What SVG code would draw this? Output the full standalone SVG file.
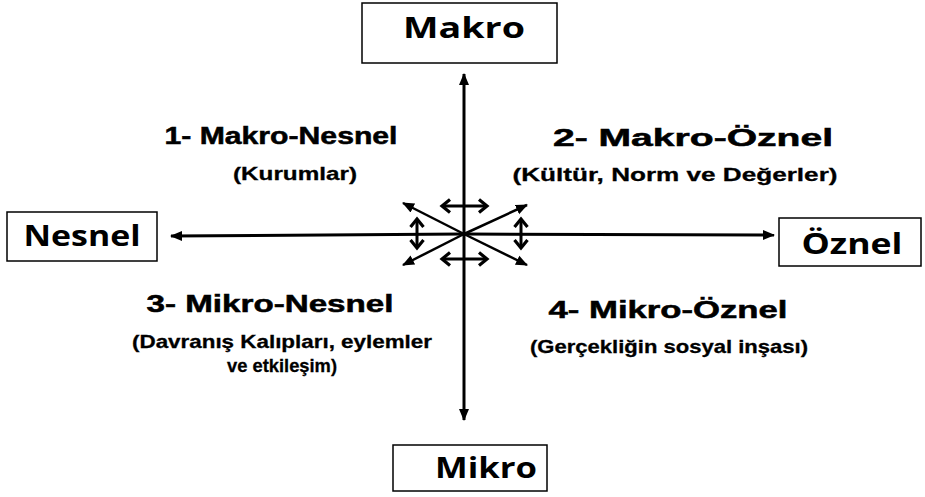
<svg xmlns="http://www.w3.org/2000/svg" width="925" height="497" viewBox="0 0 925 497">
<style>
.box{fill:#fff;stroke:#000;stroke-width:1.5}
.bt{font-family:"Open Sans","Liberation Sans",sans-serif;font-weight:bold;font-size:29px;fill:#000}
.qt{font-family:"Liberation Sans",Arial,sans-serif;font-weight:bold;font-size:23px;fill:#000;stroke:#000;stroke-width:0.5}
.qs{font-family:"Liberation Sans",Arial,sans-serif;font-weight:bold;font-size:19px;fill:#000;stroke:#000;stroke-width:0.3}
.ax{stroke:#000;stroke-width:3;fill:none}
.dg{stroke:#000;stroke-width:2.5;fill:none}
.sm{stroke:#000;stroke-width:3;fill:none}
</style>
<defs>
<marker id="ah" markerUnits="userSpaceOnUse" markerWidth="14" markerHeight="12" refX="11" refY="6" orient="auto">
<path d="M0,1 L12,6 L0,11 Z" fill="#000"/>
</marker>
<marker id="ch" markerUnits="userSpaceOnUse" markerWidth="14" markerHeight="16" refX="10" refY="8" orient="auto-start-reverse">
<path d="M2,1.5 L10,8 L2,14.5" fill="none" stroke="#000" stroke-width="3.2"/>
</marker>
</defs>
<g id="connectors">
<line class="ax" x1="464" y1="234" x2="464" y2="74" marker-end="url(#ah)"/>
<line class="ax" x1="464" y1="234" x2="464" y2="420" marker-end="url(#ah)"/>
<line class="ax" x1="464" y1="234" x2="171" y2="236" marker-end="url(#ah)"/>
<line class="ax" x1="464" y1="234" x2="774" y2="235" marker-end="url(#ah)"/>
<line class="dg" x1="464" y1="234" x2="403" y2="203" marker-end="url(#ah)"/>
<line class="dg" x1="464" y1="234" x2="527" y2="205" marker-end="url(#ah)"/>
<line class="dg" x1="464" y1="234" x2="403" y2="265" marker-end="url(#ah)"/>
<line class="dg" x1="464" y1="234" x2="527" y2="265" marker-end="url(#ah)"/>
<line class="sm" x1="442" y1="206" x2="487" y2="206" marker-start="url(#ch)" marker-end="url(#ch)"/>
<line class="sm" x1="442" y1="259" x2="487" y2="259" marker-start="url(#ch)" marker-end="url(#ch)"/>
<line class="sm" x1="417" y1="219" x2="417" y2="248" marker-start="url(#ch)" marker-end="url(#ch)"/>
<line class="sm" x1="521" y1="219" x2="521" y2="248" marker-start="url(#ch)" marker-end="url(#ch)"/>
</g>
<g id="makro">
<rect class="box" x="362" y="3" width="195" height="60"/>
<text class="bt" x="464" y="38" text-anchor="middle" textLength="122" lengthAdjust="spacingAndGlyphs">Makro</text>
</g>
<g id="mikro">
<rect class="box" x="393" y="445" width="154" height="46"/>
<text class="bt" x="486" y="478" text-anchor="middle" textLength="102" lengthAdjust="spacingAndGlyphs">Mikro</text>
</g>
<g id="nesnel">
<rect class="box" x="7" y="212" width="150" height="49"/>
<text class="bt" x="82" y="246" text-anchor="middle" textLength="117" lengthAdjust="spacingAndGlyphs">Nesnel</text>
</g>
<g id="oznel">
<rect class="box" x="779" y="218" width="142" height="48"/>
<text class="bt" x="852" y="254" text-anchor="middle" textLength="101" lengthAdjust="spacingAndGlyphs">Öznel</text>
</g>
<g id="q1">
<text class="qt" x="281" y="144" text-anchor="middle" textLength="233" lengthAdjust="spacingAndGlyphs">1- Makro-Nesnel</text>
<text class="qs" x="295" y="180" text-anchor="middle" textLength="124" lengthAdjust="spacingAndGlyphs">(Kurumlar)</text>
</g>
<g id="q2">
<text class="qt" x="693" y="146" text-anchor="middle" textLength="280" lengthAdjust="spacingAndGlyphs">2- Makro-Öznel</text>
<text class="qs" x="675" y="181" text-anchor="middle" textLength="325" lengthAdjust="spacingAndGlyphs">(Kültür, Norm ve Değerler)</text>
</g>
<g id="q3">
<text class="qt" x="270" y="312" text-anchor="middle" textLength="247" lengthAdjust="spacingAndGlyphs">3- Mikro-Nesnel</text>
<text class="qs" x="282" y="348" text-anchor="middle" textLength="300" lengthAdjust="spacingAndGlyphs">(Davranış Kalıpları,  eylemler</text>
<text class="qs" x="282" y="372" text-anchor="middle" textLength="110" lengthAdjust="spacingAndGlyphs">ve etkileşim)</text>
</g>
<g id="q4">
<text class="qt" x="668" y="318" text-anchor="middle" textLength="239" lengthAdjust="spacingAndGlyphs">4- Mikro-Öznel</text>
<text class="qs" x="669" y="353" text-anchor="middle" textLength="278" lengthAdjust="spacingAndGlyphs">(Gerçekliğin  sosyal inşası)</text>
</g>
</svg>
